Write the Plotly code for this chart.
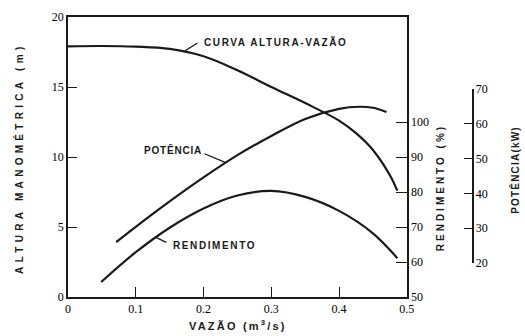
import plotly.graph_objects as go

# ---- data ----
head_q = [0.0, 0.05, 0.10, 0.15, 0.20, 0.25, 0.30, 0.35, 0.40, 0.425, 0.45, 0.475, 0.486]
head_h = [17.9, 17.93, 17.88, 17.72, 17.2, 16.2, 15.0, 13.85, 12.6, 11.7, 10.5, 8.7, 7.6]

pow_q = [0.071, 0.10, 0.15, 0.20, 0.25, 0.30, 0.35, 0.40, 0.43, 0.45, 0.47]
pow_kw = [26.0, 30.4, 37.7, 44.6, 51.0, 56.5, 61.4, 64.3, 64.9, 64.6, 63.4]

eff_q = [0.049, 0.10, 0.15, 0.20, 0.25, 0.30, 0.35, 0.40, 0.45, 0.486]
eff_pct = [54.3, 62.8, 69.8, 75.3, 79.0, 80.3, 78.6, 74.6, 68.2, 61.1]

x_ticks = [0, 0.1, 0.2, 0.3, 0.4, 0.5]
x_ticktext = ["0", "0.1", "0.2", "0.3", "0.4", "0.5"]
h_ticks = [0, 5, 10, 15, 20]
eff_ticks = [50, 60, 70, 80, 90, 100]
pow_ticks = [20, 30, 40, 50, 60, 70]

INK = "#1a1a1a"
SERIF = "Liberation Serif"
SANS = "Liberation Sans"

def spaced(t, sp=1.5):
    return f'<span style="letter-spacing:{sp}px"><b>{t}</b></span>'

fig = go.Figure()
line = dict(color=INK, width=2.2, shape="spline", smoothing=1.0)
fig.add_trace(go.Scatter(x=head_q, y=head_h, mode="lines", line=line, xaxis="x", yaxis="y", hoverinfo="skip"))
fig.add_trace(go.Scatter(x=eff_q, y=eff_pct, mode="lines", line=line, xaxis="x", yaxis="y2", hoverinfo="skip"))
fig.add_trace(go.Scatter(x=pow_q, y=pow_kw, mode="lines", line=line, xaxis="x", yaxis="y3", hoverinfo="skip"))

xdom = (413 - 68) / 447
tickfont = dict(family=SERIF, size=12, color="black")

fig.update_layout(
    width=525, height=336,
    margin=dict(l=68, r=10, t=17, b=39),
    paper_bgcolor="white", plot_bgcolor="rgba(0,0,0,0)",
    showlegend=False,
    xaxis=dict(domain=[0, xdom], range=[0, 0.5], tickvals=x_ticks, ticktext=x_ticktext,
               ticks="inside", ticklen=10, tickwidth=1.3, tickcolor=INK,
               showline=True, linecolor=INK, linewidth=1.5, mirror=True,
               showgrid=False, zeroline=False, tickfont=tickfont),
    yaxis=dict(domain=[0, 1], range=[0, 20], tickvals=h_ticks, ticks="inside", ticklen=9, tickwidth=1.3,
               tickcolor=INK, showline=True, linecolor=INK, linewidth=1.5,
               showgrid=False, zeroline=False, tickfont=tickfont),
    yaxis2=dict(overlaying="y", side="right", anchor="x", range=[50, 130], tickvals=eff_ticks,
                ticks="inside", ticklen=11, tickwidth=1.3, tickcolor=INK,
                showline=True, linecolor=INK, linewidth=1.5,
                showgrid=False, zeroline=False, tickfont=tickfont),
    yaxis3=dict(side="right", anchor="free",
                position=(480 - 68) / 447,
                domain=[(297 - 263) / 280, (297 - 89) / 280],
                range=[20, 70], tickvals=pow_ticks,
                ticks="inside", ticklen=8, tickwidth=1.3, tickcolor=INK,
                showline=True, linecolor=INK, linewidth=1.5,
                showgrid=False, zeroline=False, tickfont=tickfont),
)

ann_font = dict(family=SANS, size=10, color=INK)
fig.add_annotation(x=0.198, y=18.2, xref="x", yref="y", text=spaced("CURVA ALTURA-VAZÃO", 1.6),
                   showarrow=False, xanchor="left", yanchor="middle", font=ann_font)
fig.add_annotation(x=0.2, y=10.5, xref="x", yref="y", text=spaced("POTÊNCIA", 0.8),
                   showarrow=False, xanchor="right", yanchor="middle", font=ann_font)
fig.add_annotation(x=0.152, y=3.71, xref="x", yref="y", text=spaced("RENDIMENTO", 1.6),
                   showarrow=False, xanchor="left", yanchor="middle", font=ann_font)

lead = dict(color=INK, width=1.3)
fig.add_shape(type="line", xref="x", yref="y", x0=0.1725, y0=17.57, x1=0.191, y1=18.14, line=lead)
fig.add_shape(type="line", xref="x", yref="y3", x0=0.2014, y0=51.4, x1=0.2319, y1=48.9, line=lead)
fig.add_shape(type="line", xref="x", yref="y2", x0=0.129, y0=67.1, x1=0.145, y1=65.6, line=lead)

title_font = dict(family=SANS, size=10, color=INK)
fig.add_annotation(x=(18 - 68) / 447, y=(297 - 158) / 280, xref="paper", yref="paper",
                   text=spaced("ALTURA MANOMÉTRICA (m)", 4.3), textangle=-90, showarrow=False,
                   xanchor="center", yanchor="middle", font=title_font)
fig.add_annotation(x=(241 - 68) / 447, y=(297 - 325) / 280, xref="paper", yref="paper",
                   text=spaced("VAZÃO (m<sup>3</sup>/s)", 2.2), showarrow=False,
                   xanchor="center", yanchor="middle", font=dict(family=SANS, size=11, color=INK))
fig.add_annotation(x=(447 - 68) / 447, y=(297 - 188) / 280, xref="paper", yref="paper",
                   text=spaced("RENDIMENTO (%)", 3), textangle=-90, showarrow=False,
                   xanchor="center", yanchor="middle", font=title_font)
fig.add_annotation(x=(523 - 68) / 447, y=(297 - 170) / 280, xref="paper", yref="paper",
                   text=spaced("POTÊNCIA(kW)", 1.2), textangle=-90, showarrow=False,
                   xanchor="center", yanchor="middle", font=title_font)

fig.write_html("out.html")
